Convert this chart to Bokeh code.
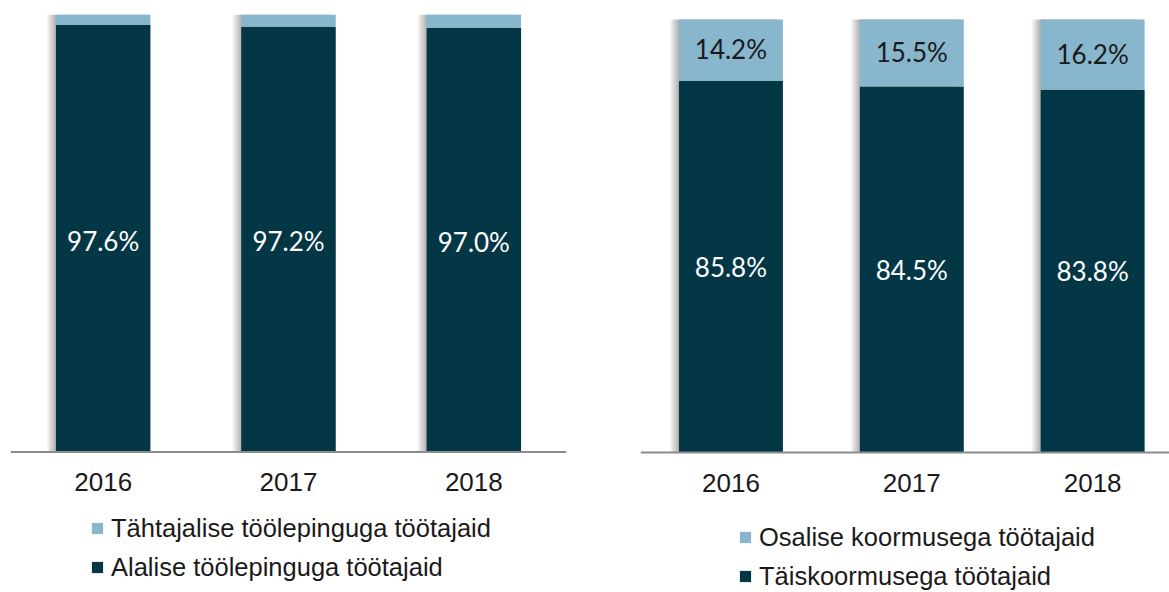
from bokeh.plotting import figure
from bokeh.models import ColumnDataSource, Range1d, Legend, LegendItem, Span
from bokeh.layouts import row
from bokeh.embed import file_html
from bokeh.resources import INLINE
from bokeh.core.properties import value
from bokeh.transform import dodge
import numpy as np

# ---- data ----
years = ["2016", "2017", "2018"]
permanent = [97.6, 97.2, 97.0]        # Alalise töölepinguga töötajaid
fixed_term = [2.4, 2.8, 3.0]          # Tähtajalise töölepinguga töötajaid
full_time = [85.8, 84.5, 83.8]        # Täiskoormusega töötajaid
part_time = [14.2, 15.5, 16.2]        # Osalise koormusega töötajaid
left_labels = ["Tähtajalise töölepinguga töötajaid", "Alalise töölepinguga töötajaid"]
right_labels = ["Osalise koormusega töötajaid", "Täiskoormusega töötajaid"]

DARK = "#033745"
LIGHT = "#87b6cd"
TXT = "#1a1a1a"
FONT = "Liberation Sans"


def panel(bottom_vals, top_vals, labels, show_top_labels, width, height,
          mb_left, mb_right, y_start, y_end, x_end, bar_w, px_unit,
          legend_x, legend_y, label_h, spacing, year_off, off_b):
    x = np.arange(len(years)) + 0.5
    b = np.array(bottom_vals, dtype=float)
    t = np.array(top_vals, dtype=float)
    src = ColumnDataSource(dict(
        x=x, bottom=b, total=b + t, years=years, zero=np.zeros(len(years)),
        lab_b=[f"{v:.1f}%" for v in b], lab_t=[f"{v:.1f}%" for v in t],
        yb=b / 2, yt=b + t / 2,
    ))
    p = figure(width=width, height=height, x_range=Range1d(0, x_end),
               y_range=Range1d(y_start, y_end),
               output_backend="svg", toolbar_location=None,
               x_axis_location=None, y_axis_location=None,
               min_border_left=mb_left, min_border_right=mb_right,
               min_border_top=14, min_border_bottom=0)
    p.outline_line_color = None
    p.xgrid.visible = False
    p.ygrid.visible = False
    p.background_fill_color = "white"

    # soft shadow on the left of each bar
    for d in [1, 2, 3, 4, 5, 6, 7, 8, 9]:
        p.vbar(x=dodge("x", -d * px_unit), width=bar_w, top="total", bottom=0,
               source=src, fill_color="black", fill_alpha=0.035, line_color=None)

    r_bot = p.vbar(x="x", width=bar_w, top="bottom", bottom=0, source=src,
                   fill_color=DARK, line_color=None)
    r_top = p.vbar(x="x", width=bar_w, top="total", bottom="bottom", source=src,
                   fill_color=LIGHT, line_color=None)

    # category axis line and year labels
    p.add_layout(Span(location=0, dimension="width", line_color="#8c8c8c", line_width=2))
    p.text(x="x", y="zero", text="years", source=src, text_align="center", text_baseline="middle",
           text_color=TXT, text_font=value(FONT), text_font_size="26px", y_offset=year_off)

    p.text(x="x", y="yb", text="lab_b", source=src, text_align="center", text_baseline="middle",
           text_color="white", text_font=value("Lato"), text_font_size="26px", y_offset=off_b)
    if show_top_labels:
        p.text(x="x", y="yt", text="lab_t", source=src, text_align="center", text_baseline="middle",
               text_color=TXT, text_font=value("Lato"), text_font_size="26px", y_offset=-1)

    legend = Legend(items=[LegendItem(label=labels[0], renderers=[r_top]),
                           LegendItem(label=labels[1], renderers=[r_bot])],
                    location=(legend_x, legend_y), orientation="vertical",
                    glyph_width=14, glyph_height=14, label_standoff=7,
                    padding=0, margin=0, spacing=spacing, label_height=label_h,
                    border_line_color=None, background_fill_alpha=0,
                    label_text_font=FONT, label_text_font_size="25.5px",
                    label_text_color=TXT)
    p.add_layout(legend)
    return p


p1 = panel(permanent, fixed_term, left_labels, False, width=600, height=592,
           mb_left=10, mb_right=34, y_start=-32.11, y_end=100, x_end=3.0, bar_w=0.51,
           px_unit=1 / 186, legend_x=80, legend_y=10, label_h=30, spacing=9,
           year_off=30, off_b=2)
p2 = panel(full_time, part_time, right_labels, True, width=569, height=592,
           mb_left=40, mb_right=0, y_start=-32.33, y_end=101.155, x_end=2.925, bar_w=0.575,
           px_unit=1 / 181, legend_x=98, legend_y=1, label_h=30, spacing=9,
           year_off=30, off_b=0)

layout = row(p1, p2)
open("out.html", "w").write(file_html(layout, INLINE))
